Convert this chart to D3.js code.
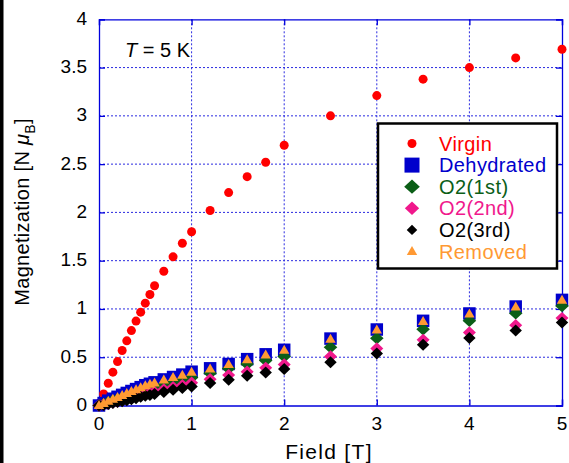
<!DOCTYPE html>
<html><head><meta charset="utf-8">
<script src="https://cdn.jsdelivr.net/npm/d3@7"></script>
<style>body{margin:0;background:#fff}svg{display:block}text{font-family:"Liberation Sans",Arial,sans-serif}</style>
</head><body><svg id="c" width="569" height="463"></svg>
<script>
const fields = [0,0.05,0.1,0.15,0.2,0.25,0.3,0.35,0.4,0.45,0.5,0.55,0.6,0.7,0.8,0.9,1.0,1.2,1.4,1.6,1.8,2.0,2.5,3,3.5,4,4.5,5];
const virgin = [0.02,0.12,0.23,0.345,0.455,0.57,0.67,0.776,0.874,0.967,1.06,1.15,1.24,1.39,1.54,1.68,1.80,2.02,2.205,2.37,2.52,2.696,3.0,3.21,3.38,3.50,3.60,3.69];
const dehydrated = [0.0,0.025,0.05,0.07,0.09,0.11,0.13,0.15,0.17,0.19,0.21,0.225,0.24,0.27,0.295,0.32,0.35,0.385,0.43,0.48,0.53,0.577,0.693,0.787,0.877,0.953,1.025,1.094];
const o2first = [0.0,0.015,0.035,0.05,0.065,0.08,0.095,0.11,0.125,0.14,0.155,0.17,0.185,0.215,0.24,0.265,0.29,0.335,0.383,0.43,0.466,0.507,0.604,0.697,0.79,0.877,0.956,1.03];
const o2second = [0.0,0.01,0.02,0.03,0.04,0.055,0.065,0.08,0.09,0.105,0.115,0.13,0.14,0.165,0.19,0.21,0.235,0.273,0.315,0.349,0.39,0.424,0.507,0.59,0.68,0.756,0.832,0.905];
const o2third = [0.0,0.005,0.015,0.025,0.035,0.045,0.055,0.065,0.075,0.09,0.1,0.11,0.12,0.14,0.163,0.18,0.197,0.232,0.266,0.307,0.342,0.377,0.449,0.538,0.628,0.70,0.776,0.859];
const removed = [0.0,0.022,0.045,0.065,0.085,0.105,0.125,0.145,0.165,0.185,0.205,0.22,0.235,0.265,0.29,0.315,0.345,0.38,0.425,0.475,0.525,0.572,0.688,0.782,0.872,0.95,1.02,1.09];
const xTicks = [0,1,2,3,4,5];
const yTicks = [0,0.5,1,1.5,2,2.5,3,3.5,4];
const seriesNames = ["Virgin","Dehydrated","O2(1st)","O2(2nd)","O2(3rd)","Removed"];
const seriesColors = ["#ff0000","#0000cc","#0b5e17","#f0188c","#000000","#ff9933"];
const seriesShapes = ["circle","square","diamondL","diamondM","diamondS","triangle"];

const svg = d3.select("#c");
const x = d3.scaleLinear().domain([0,5]).range([99,562]);
const y = d3.scaleLinear().domain([0,4]).range([405.5,19.3]);

svg.append("rect").attr("x",0).attr("y",0).attr("width",3.5).attr("height",463).attr("fill","#000");

const g = svg.append("g");
g.selectAll(".gx").data(xTicks.slice(1,-1)).enter().append("line")
  .attr("x1",d=>x(d)).attr("x2",d=>x(d)).attr("y1",y(4)).attr("y2",y(0))
  .attr("stroke","#2a2ae0").attr("stroke-width",1).attr("stroke-dasharray","2,2");
g.selectAll(".gy").data(yTicks.slice(1,-1)).enter().append("line")
  .attr("y1",d=>y(d)).attr("y2",d=>y(d)).attr("x1",x(0)).attr("x2",x(5))
  .attr("stroke","#2a2ae0").attr("stroke-width",1).attr("stroke-dasharray","2,2");

const axB = d3.axisBottom(x).tickValues(xTicks).tickSize(-6).tickFormat("");
const axT = d3.axisTop(x).tickValues(xTicks).tickSize(-6).tickFormat("");
const axL = d3.axisLeft(y).tickValues(yTicks).tickSize(-6).tickFormat("");
const axR = d3.axisRight(y).tickValues(yTicks).tickSize(-6).tickFormat("");
[[axB,`translate(0,${y(0)})`],[axT,`translate(0,${y(4)})`],[axL,`translate(${x(0)},0)`],[axR,`translate(${x(5)},0)`]].forEach(([a,t])=>{
  const s = svg.append("g").attr("transform",t).call(a);
  s.selectAll("path,line").attr("stroke","#0000dd").attr("stroke-width",1.3);
});

svg.selectAll(".xl").data(xTicks).enter().append("text")
  .attr("x",d=>x(d)).attr("y",430).attr("text-anchor","middle")
  .attr("font-size",19).attr("fill","#000").text(d=>d);
svg.selectAll(".yl").data(yTicks).enter().append("text")
  .attr("x",87).attr("y",d=>y(d)+5.5).attr("text-anchor","end")
  .attr("font-size",19).attr("fill","#000").text(d=>d);

svg.append("text").attr("x",329).attr("y",459).attr("text-anchor","middle")
  .attr("font-size",21).attr("letter-spacing",1.3).attr("fill","#000").text("Field [T]");
const yt = svg.append("text").attr("transform","translate(29,212) rotate(-90)")
  .attr("text-anchor","middle").attr("font-size",20).attr("letter-spacing",0.3).attr("fill","#000");
yt.append("tspan").text("Magnetization [N ");
yt.append("tspan").attr("font-style","italic").text("μ");
yt.append("tspan").attr("font-size",14).attr("dy",6).text("B");
yt.append("tspan").attr("dy",-6).text("]");

const tt = svg.append("text").attr("x",125).attr("y",57).attr("font-size",20).attr("fill","#000");
tt.append("tspan").attr("font-style","italic").text("T");
tt.append("tspan").text(" = 5 K");

function marker(sel, shape, color, scale){
  scale = scale||1;
  if(shape==="circle") return sel.append("circle").attr("r",4.5*scale).attr("fill",color);
  if(shape==="square") { const s=12.5*scale; return sel.append("rect").attr("x",-s/2).attr("y",-s/2).attr("width",s).attr("height",s).attr("fill",color); }
  if(shape.startsWith("diamond")){
    const hw = shape==="diamondL"?6.8:(shape==="diamondM"?6.5:6.2);
    const hh = shape==="diamondL"?6.2:(shape==="diamondM"?6.2:6.0);
    const w=hw*scale,h=hh*scale;
    return sel.append("path").attr("d",`M0,${-h}L${w},0L0,${h}L${-w},0Z`).attr("fill",color);
  }
  if(shape==="triangle"){ const w=5.2*scale,h=9*scale; return sel.append("path").attr("d",`M0,${-h*0.6}L${w},${h*0.4}L${-w},${h*0.4}Z`).attr("fill",color); }
}
const seriesData = [virgin,dehydrated,o2first,o2second,o2third,removed];
seriesData.forEach((vals,i)=>{
  const gg = svg.append("g");
  fields.forEach((f,j)=>{
    const m = gg.append("g").attr("transform",`translate(${x(f)},${y(vals[j])})`);
    marker(m, seriesShapes[i], seriesColors[i]);
  });
});

svg.append("rect").attr("x",378).attr("y",123.5).attr("width",179).attr("height",145)
  .attr("fill","#fff").attr("stroke","#000").attr("stroke-width",2.5);
const legScale = [1,1.2,1.15,1.1,0.85,1.0];
seriesNames.forEach((n,i)=>{
  const cy = 143.5 + i*21.6;
  const m = svg.append("g").attr("transform",`translate(412,${cy})`);
  marker(m, seriesShapes[i], seriesColors[i], legScale[i]);
  svg.append("text").attr("x",439).attr("y",cy+7).attr("font-size",20).attr("letter-spacing",0.4)
    .attr("fill",seriesColors[i]).text(n);
});
</script></body></html>
